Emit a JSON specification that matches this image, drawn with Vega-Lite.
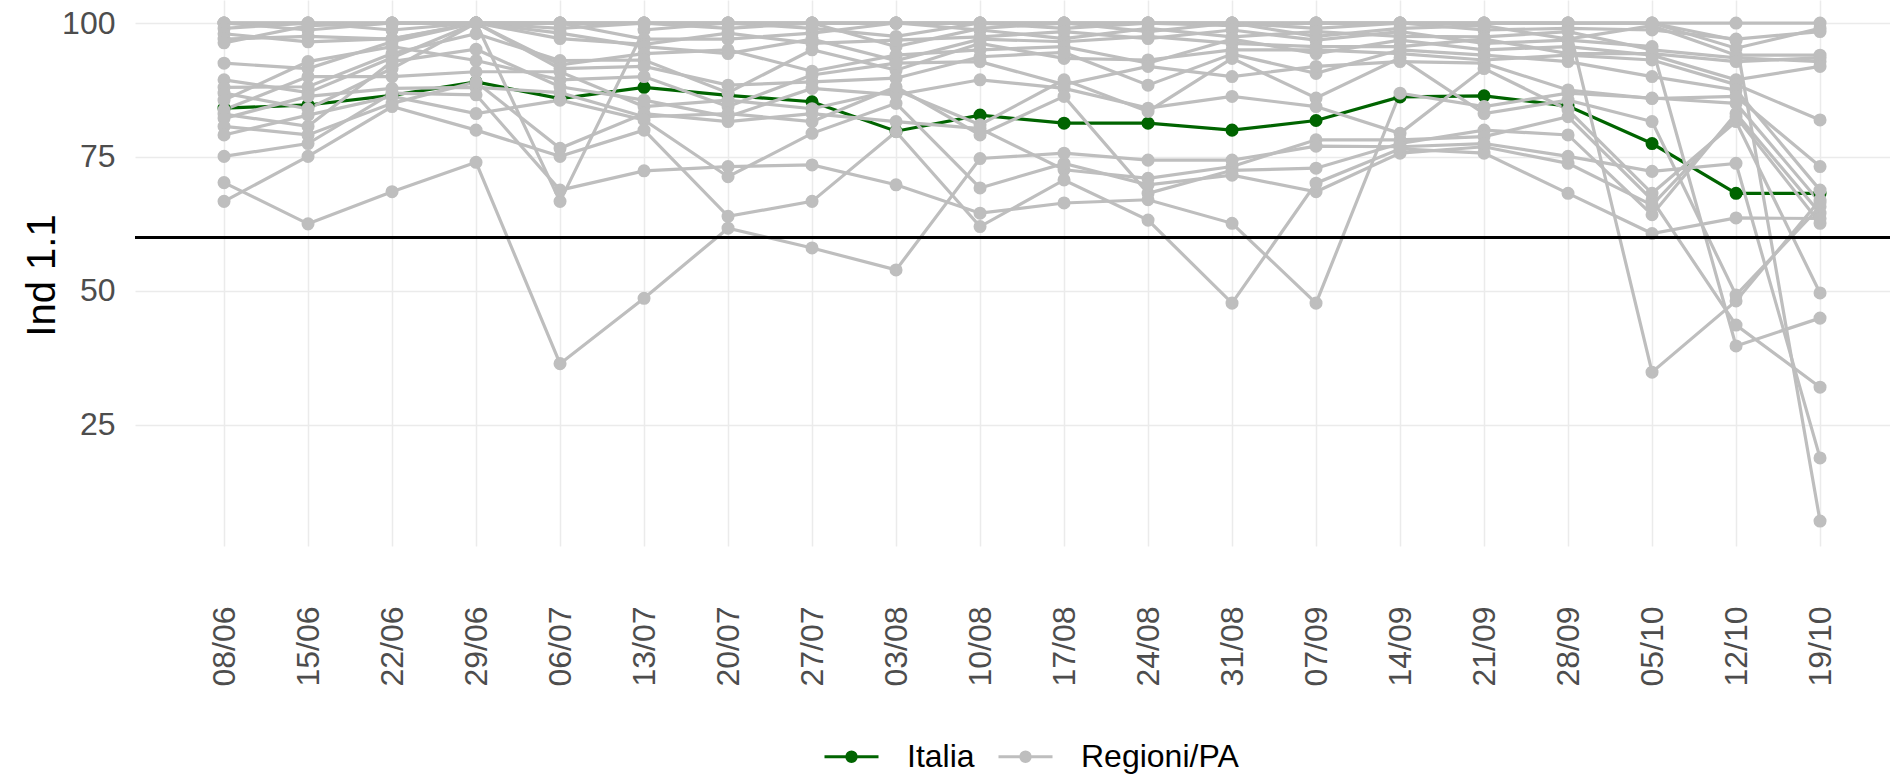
{
"$schema": "https://vega.github.io/schema/vega-lite/v6.json",
"width": 1755, "height": 546,
"autosize": {"type": "none"},
"padding": {"left": 135, "top": 0, "right": 0, "bottom": 230},
"background": "white",
"config": {"view": {"stroke": null}, "font": "Liberation Sans"},
"data": {"values": [
{"data":"08/06","regione":"Italia","tipo":"Italia","valore":84.1},{"data":"15/06","regione":"Italia","tipo":"Italia","valore":84.7},{"data":"22/06","regione":"Italia","tipo":"Italia","valore":86.5},{"data":"29/06","regione":"Italia","tipo":"Italia","valore":89},{"data":"06/07","regione":"Italia","tipo":"Italia","valore":85.9},{"data":"13/07","regione":"Italia","tipo":"Italia","valore":88},{"data":"20/07","regione":"Italia","tipo":"Italia","valore":86.5},{"data":"27/07","regione":"Italia","tipo":"Italia","valore":85.3},{"data":"03/08","regione":"Italia","tipo":"Italia","valore":79.8},{"data":"10/08","regione":"Italia","tipo":"Italia","valore":82.8},{"data":"17/08","regione":"Italia","tipo":"Italia","valore":81.3},{"data":"24/08","regione":"Italia","tipo":"Italia","valore":81.3},{"data":"31/08","regione":"Italia","tipo":"Italia","valore":80},{"data":"07/09","regione":"Italia","tipo":"Italia","valore":81.8},{"data":"14/09","regione":"Italia","tipo":"Italia","valore":86.2},{"data":"21/09","regione":"Italia","tipo":"Italia","valore":86.4},{"data":"28/09","regione":"Italia","tipo":"Italia","valore":84.5},{"data":"05/10","regione":"Italia","tipo":"Italia","valore":77.5},{"data":"12/10","regione":"Italia","tipo":"Italia","valore":68.2},{"data":"19/10","regione":"Italia","tipo":"Italia","valore":68.2},
{"data":"08/06","regione":"Abruzzo","tipo":"Regioni/PA","valore":100},{"data":"15/06","regione":"Abruzzo","tipo":"Regioni/PA","valore":100},{"data":"22/06","regione":"Abruzzo","tipo":"Regioni/PA","valore":100},{"data":"29/06","regione":"Abruzzo","tipo":"Regioni/PA","valore":100},{"data":"06/07","regione":"Abruzzo","tipo":"Regioni/PA","valore":100},{"data":"13/07","regione":"Abruzzo","tipo":"Regioni/PA","valore":100},{"data":"20/07","regione":"Abruzzo","tipo":"Regioni/PA","valore":100},{"data":"27/07","regione":"Abruzzo","tipo":"Regioni/PA","valore":100},{"data":"03/08","regione":"Abruzzo","tipo":"Regioni/PA","valore":100},{"data":"10/08","regione":"Abruzzo","tipo":"Regioni/PA","valore":100},{"data":"17/08","regione":"Abruzzo","tipo":"Regioni/PA","valore":100},{"data":"24/08","regione":"Abruzzo","tipo":"Regioni/PA","valore":100},{"data":"31/08","regione":"Abruzzo","tipo":"Regioni/PA","valore":100},{"data":"07/09","regione":"Abruzzo","tipo":"Regioni/PA","valore":100},{"data":"14/09","regione":"Abruzzo","tipo":"Regioni/PA","valore":100},{"data":"21/09","regione":"Abruzzo","tipo":"Regioni/PA","valore":100},{"data":"28/09","regione":"Abruzzo","tipo":"Regioni/PA","valore":100},{"data":"05/10","regione":"Abruzzo","tipo":"Regioni/PA","valore":100},{"data":"12/10","regione":"Abruzzo","tipo":"Regioni/PA","valore":100},{"data":"19/10","regione":"Abruzzo","tipo":"Regioni/PA","valore":100},
{"data":"08/06","regione":"Basilicata","tipo":"Regioni/PA","valore":100},{"data":"15/06","regione":"Basilicata","tipo":"Regioni/PA","valore":100},{"data":"22/06","regione":"Basilicata","tipo":"Regioni/PA","valore":100},{"data":"29/06","regione":"Basilicata","tipo":"Regioni/PA","valore":100},{"data":"06/07","regione":"Basilicata","tipo":"Regioni/PA","valore":100},{"data":"13/07","regione":"Basilicata","tipo":"Regioni/PA","valore":100},{"data":"20/07","regione":"Basilicata","tipo":"Regioni/PA","valore":100},{"data":"27/07","regione":"Basilicata","tipo":"Regioni/PA","valore":100},{"data":"03/08","regione":"Basilicata","tipo":"Regioni/PA","valore":100},{"data":"10/08","regione":"Basilicata","tipo":"Regioni/PA","valore":100},{"data":"17/08","regione":"Basilicata","tipo":"Regioni/PA","valore":100},{"data":"24/08","regione":"Basilicata","tipo":"Regioni/PA","valore":100},{"data":"31/08","regione":"Basilicata","tipo":"Regioni/PA","valore":100},{"data":"07/09","regione":"Basilicata","tipo":"Regioni/PA","valore":100},{"data":"14/09","regione":"Basilicata","tipo":"Regioni/PA","valore":100},{"data":"21/09","regione":"Basilicata","tipo":"Regioni/PA","valore":100},{"data":"28/09","regione":"Basilicata","tipo":"Regioni/PA","valore":100},{"data":"05/10","regione":"Basilicata","tipo":"Regioni/PA","valore":100},{"data":"12/10","regione":"Basilicata","tipo":"Regioni/PA","valore":96.8},{"data":"19/10","regione":"Basilicata","tipo":"Regioni/PA","valore":7},
{"data":"08/06","regione":"Calabria","tipo":"Regioni/PA","valore":100},{"data":"15/06","regione":"Calabria","tipo":"Regioni/PA","valore":100},{"data":"22/06","regione":"Calabria","tipo":"Regioni/PA","valore":100},{"data":"29/06","regione":"Calabria","tipo":"Regioni/PA","valore":100},{"data":"06/07","regione":"Calabria","tipo":"Regioni/PA","valore":100},{"data":"13/07","regione":"Calabria","tipo":"Regioni/PA","valore":100},{"data":"20/07","regione":"Calabria","tipo":"Regioni/PA","valore":100},{"data":"27/07","regione":"Calabria","tipo":"Regioni/PA","valore":100},{"data":"03/08","regione":"Calabria","tipo":"Regioni/PA","valore":100},{"data":"10/08","regione":"Calabria","tipo":"Regioni/PA","valore":100},{"data":"17/08","regione":"Calabria","tipo":"Regioni/PA","valore":100},{"data":"24/08","regione":"Calabria","tipo":"Regioni/PA","valore":100},{"data":"31/08","regione":"Calabria","tipo":"Regioni/PA","valore":100},{"data":"07/09","regione":"Calabria","tipo":"Regioni/PA","valore":100},{"data":"14/09","regione":"Calabria","tipo":"Regioni/PA","valore":100},{"data":"21/09","regione":"Calabria","tipo":"Regioni/PA","valore":100},{"data":"28/09","regione":"Calabria","tipo":"Regioni/PA","valore":100},{"data":"05/10","regione":"Calabria","tipo":"Regioni/PA","valore":34.8},{"data":"12/10","regione":"Calabria","tipo":"Regioni/PA","valore":48.1},{"data":"19/10","regione":"Calabria","tipo":"Regioni/PA","valore":67},
{"data":"08/06","regione":"Campania","tipo":"Regioni/PA","valore":100},{"data":"15/06","regione":"Campania","tipo":"Regioni/PA","valore":98.7},{"data":"22/06","regione":"Campania","tipo":"Regioni/PA","valore":100},{"data":"29/06","regione":"Campania","tipo":"Regioni/PA","valore":100},{"data":"06/07","regione":"Campania","tipo":"Regioni/PA","valore":100},{"data":"13/07","regione":"Campania","tipo":"Regioni/PA","valore":100},{"data":"20/07","regione":"Campania","tipo":"Regioni/PA","valore":100},{"data":"27/07","regione":"Campania","tipo":"Regioni/PA","valore":100},{"data":"03/08","regione":"Campania","tipo":"Regioni/PA","valore":100},{"data":"10/08","regione":"Campania","tipo":"Regioni/PA","valore":100},{"data":"17/08","regione":"Campania","tipo":"Regioni/PA","valore":100},{"data":"24/08","regione":"Campania","tipo":"Regioni/PA","valore":100},{"data":"31/08","regione":"Campania","tipo":"Regioni/PA","valore":100},{"data":"07/09","regione":"Campania","tipo":"Regioni/PA","valore":99},{"data":"14/09","regione":"Campania","tipo":"Regioni/PA","valore":100},{"data":"21/09","regione":"Campania","tipo":"Regioni/PA","valore":100},{"data":"28/09","regione":"Campania","tipo":"Regioni/PA","valore":100},{"data":"05/10","regione":"Campania","tipo":"Regioni/PA","valore":100},{"data":"12/10","regione":"Campania","tipo":"Regioni/PA","valore":95.3},{"data":"19/10","regione":"Campania","tipo":"Regioni/PA","valore":99},
{"data":"08/06","regione":"Emilia-Romagna","tipo":"Regioni/PA","valore":99},{"data":"15/06","regione":"Emilia-Romagna","tipo":"Regioni/PA","valore":100},{"data":"22/06","regione":"Emilia-Romagna","tipo":"Regioni/PA","valore":98.7},{"data":"29/06","regione":"Emilia-Romagna","tipo":"Regioni/PA","valore":100},{"data":"06/07","regione":"Emilia-Romagna","tipo":"Regioni/PA","valore":66.7},{"data":"13/07","regione":"Emilia-Romagna","tipo":"Regioni/PA","valore":98.7},{"data":"20/07","regione":"Emilia-Romagna","tipo":"Regioni/PA","valore":100},{"data":"27/07","regione":"Emilia-Romagna","tipo":"Regioni/PA","valore":99},{"data":"03/08","regione":"Emilia-Romagna","tipo":"Regioni/PA","valore":97.5},{"data":"10/08","regione":"Emilia-Romagna","tipo":"Regioni/PA","valore":100},{"data":"17/08","regione":"Emilia-Romagna","tipo":"Regioni/PA","valore":99},{"data":"24/08","regione":"Emilia-Romagna","tipo":"Regioni/PA","valore":100},{"data":"31/08","regione":"Emilia-Romagna","tipo":"Regioni/PA","valore":99.5},{"data":"07/09","regione":"Emilia-Romagna","tipo":"Regioni/PA","valore":100},{"data":"14/09","regione":"Emilia-Romagna","tipo":"Regioni/PA","valore":100},{"data":"21/09","regione":"Emilia-Romagna","tipo":"Regioni/PA","valore":98.7},{"data":"28/09","regione":"Emilia-Romagna","tipo":"Regioni/PA","valore":99},{"data":"05/10","regione":"Emilia-Romagna","tipo":"Regioni/PA","valore":98.7},{"data":"12/10","regione":"Emilia-Romagna","tipo":"Regioni/PA","valore":97},{"data":"19/10","regione":"Emilia-Romagna","tipo":"Regioni/PA","valore":98.4},
{"data":"08/06","regione":"Friuli Venezia Giulia","tipo":"Regioni/PA","valore":98},{"data":"15/06","regione":"Friuli Venezia Giulia","tipo":"Regioni/PA","valore":96.5},{"data":"22/06","regione":"Friuli Venezia Giulia","tipo":"Regioni/PA","valore":97.1},{"data":"29/06","regione":"Friuli Venezia Giulia","tipo":"Regioni/PA","valore":100},{"data":"06/07","regione":"Friuli Venezia Giulia","tipo":"Regioni/PA","valore":99},{"data":"13/07","regione":"Friuli Venezia Giulia","tipo":"Regioni/PA","valore":100},{"data":"20/07","regione":"Friuli Venezia Giulia","tipo":"Regioni/PA","valore":99},{"data":"27/07","regione":"Friuli Venezia Giulia","tipo":"Regioni/PA","valore":100},{"data":"03/08","regione":"Friuli Venezia Giulia","tipo":"Regioni/PA","valore":95.6},{"data":"10/08","regione":"Friuli Venezia Giulia","tipo":"Regioni/PA","valore":99},{"data":"17/08","regione":"Friuli Venezia Giulia","tipo":"Regioni/PA","valore":100},{"data":"24/08","regione":"Friuli Venezia Giulia","tipo":"Regioni/PA","valore":98.4},{"data":"31/08","regione":"Friuli Venezia Giulia","tipo":"Regioni/PA","valore":100},{"data":"07/09","regione":"Friuli Venezia Giulia","tipo":"Regioni/PA","valore":97.5},{"data":"14/09","regione":"Friuli Venezia Giulia","tipo":"Regioni/PA","valore":99},{"data":"21/09","regione":"Friuli Venezia Giulia","tipo":"Regioni/PA","valore":99.5},{"data":"28/09","regione":"Friuli Venezia Giulia","tipo":"Regioni/PA","valore":97},{"data":"05/10","regione":"Friuli Venezia Giulia","tipo":"Regioni/PA","valore":99.5},{"data":"12/10","regione":"Friuli Venezia Giulia","tipo":"Regioni/PA","valore":94},{"data":"19/10","regione":"Friuli Venezia Giulia","tipo":"Regioni/PA","valore":94},
{"data":"08/06","regione":"Lazio","tipo":"Regioni/PA","valore":97},{"data":"15/06","regione":"Lazio","tipo":"Regioni/PA","valore":97.5},{"data":"22/06","regione":"Lazio","tipo":"Regioni/PA","valore":97},{"data":"29/06","regione":"Lazio","tipo":"Regioni/PA","valore":100},{"data":"06/07","regione":"Lazio","tipo":"Regioni/PA","valore":100},{"data":"13/07","regione":"Lazio","tipo":"Regioni/PA","valore":97},{"data":"20/07","regione":"Lazio","tipo":"Regioni/PA","valore":97},{"data":"27/07","regione":"Lazio","tipo":"Regioni/PA","valore":98.1},{"data":"03/08","regione":"Lazio","tipo":"Regioni/PA","valore":100},{"data":"10/08","regione":"Lazio","tipo":"Regioni/PA","valore":98.7},{"data":"17/08","regione":"Lazio","tipo":"Regioni/PA","valore":97.1},{"data":"24/08","regione":"Lazio","tipo":"Regioni/PA","valore":99},{"data":"31/08","regione":"Lazio","tipo":"Regioni/PA","valore":97.4},{"data":"07/09","regione":"Lazio","tipo":"Regioni/PA","valore":98.4},{"data":"14/09","regione":"Lazio","tipo":"Regioni/PA","valore":97.5},{"data":"21/09","regione":"Lazio","tipo":"Regioni/PA","valore":97.4},{"data":"28/09","regione":"Lazio","tipo":"Regioni/PA","valore":98.4},{"data":"05/10","regione":"Lazio","tipo":"Regioni/PA","valore":95},{"data":"12/10","regione":"Lazio","tipo":"Regioni/PA","valore":93.5},{"data":"19/10","regione":"Lazio","tipo":"Regioni/PA","valore":92.8},
{"data":"08/06","regione":"Liguria","tipo":"Regioni/PA","valore":96.3},{"data":"15/06","regione":"Liguria","tipo":"Regioni/PA","valore":99.5},{"data":"22/06","regione":"Liguria","tipo":"Regioni/PA","valore":100},{"data":"29/06","regione":"Liguria","tipo":"Regioni/PA","valore":100},{"data":"06/07","regione":"Liguria","tipo":"Regioni/PA","valore":97.1},{"data":"13/07","regione":"Liguria","tipo":"Regioni/PA","valore":96},{"data":"20/07","regione":"Liguria","tipo":"Regioni/PA","valore":98.1},{"data":"27/07","regione":"Liguria","tipo":"Regioni/PA","valore":96.2},{"data":"03/08","regione":"Liguria","tipo":"Regioni/PA","valore":96.8},{"data":"10/08","regione":"Liguria","tipo":"Regioni/PA","valore":97.4},{"data":"17/08","regione":"Liguria","tipo":"Regioni/PA","valore":98.4},{"data":"24/08","regione":"Liguria","tipo":"Regioni/PA","valore":97.1},{"data":"31/08","regione":"Liguria","tipo":"Regioni/PA","valore":98.7},{"data":"07/09","regione":"Liguria","tipo":"Regioni/PA","valore":96.8},{"data":"14/09","regione":"Liguria","tipo":"Regioni/PA","valore":98.4},{"data":"21/09","regione":"Liguria","tipo":"Regioni/PA","valore":96.2},{"data":"28/09","regione":"Liguria","tipo":"Regioni/PA","valore":96.8},{"data":"05/10","regione":"Liguria","tipo":"Regioni/PA","valore":95.6},{"data":"12/10","regione":"Liguria","tipo":"Regioni/PA","valore":39.7},{"data":"19/10","regione":"Liguria","tipo":"Regioni/PA","valore":44.9},
{"data":"08/06","regione":"Lombardia","tipo":"Regioni/PA","valore":92.5},{"data":"15/06","regione":"Lombardia","tipo":"Regioni/PA","valore":91.5},{"data":"22/06","regione":"Lombardia","tipo":"Regioni/PA","valore":96.5},{"data":"29/06","regione":"Lombardia","tipo":"Regioni/PA","valore":100},{"data":"06/07","regione":"Lombardia","tipo":"Regioni/PA","valore":98.1},{"data":"13/07","regione":"Lombardia","tipo":"Regioni/PA","valore":95.6},{"data":"20/07","regione":"Lombardia","tipo":"Regioni/PA","valore":94.3},{"data":"27/07","regione":"Lombardia","tipo":"Regioni/PA","valore":97},{"data":"03/08","regione":"Lombardia","tipo":"Regioni/PA","valore":93},{"data":"10/08","regione":"Lombardia","tipo":"Regioni/PA","valore":97},{"data":"17/08","regione":"Lombardia","tipo":"Regioni/PA","valore":96.5},{"data":"24/08","regione":"Lombardia","tipo":"Regioni/PA","valore":97.5},{"data":"31/08","regione":"Lombardia","tipo":"Regioni/PA","valore":96.2},{"data":"07/09","regione":"Lombardia","tipo":"Regioni/PA","valore":95.6},{"data":"14/09","regione":"Lombardia","tipo":"Regioni/PA","valore":95.6},{"data":"21/09","regione":"Lombardia","tipo":"Regioni/PA","valore":97},{"data":"28/09","regione":"Lombardia","tipo":"Regioni/PA","valore":94.3},{"data":"05/10","regione":"Lombardia","tipo":"Regioni/PA","valore":94.3},{"data":"12/10","regione":"Lombardia","tipo":"Regioni/PA","valore":92.8},{"data":"19/10","regione":"Lombardia","tipo":"Regioni/PA","valore":93.5},
{"data":"08/06","regione":"Marche","tipo":"Regioni/PA","valore":89.4},{"data":"15/06","regione":"Marche","tipo":"Regioni/PA","valore":87},{"data":"22/06","regione":"Marche","tipo":"Regioni/PA","valore":93.5},{"data":"29/06","regione":"Marche","tipo":"Regioni/PA","valore":100},{"data":"06/07","regione":"Marche","tipo":"Regioni/PA","valore":92.2},{"data":"13/07","regione":"Marche","tipo":"Regioni/PA","valore":94.3},{"data":"20/07","regione":"Marche","tipo":"Regioni/PA","valore":95},{"data":"27/07","regione":"Marche","tipo":"Regioni/PA","valore":91},{"data":"03/08","regione":"Marche","tipo":"Regioni/PA","valore":94},{"data":"10/08","regione":"Marche","tipo":"Regioni/PA","valore":95},{"data":"17/08","regione":"Marche","tipo":"Regioni/PA","valore":95.6},{"data":"24/08","regione":"Marche","tipo":"Regioni/PA","valore":92.5},{"data":"31/08","regione":"Marche","tipo":"Regioni/PA","valore":97},{"data":"07/09","regione":"Marche","tipo":"Regioni/PA","valore":94.3},{"data":"14/09","regione":"Marche","tipo":"Regioni/PA","valore":96.8},{"data":"21/09","regione":"Marche","tipo":"Regioni/PA","valore":95},{"data":"28/09","regione":"Marche","tipo":"Regioni/PA","valore":95.6},{"data":"05/10","regione":"Marche","tipo":"Regioni/PA","valore":94},{"data":"12/10","regione":"Marche","tipo":"Regioni/PA","valore":89.4},{"data":"19/10","regione":"Marche","tipo":"Regioni/PA","valore":91.9},
{"data":"08/06","regione":"Molise","tipo":"Regioni/PA","valore":88},{"data":"15/06","regione":"Molise","tipo":"Regioni/PA","valore":88.1},{"data":"22/06","regione":"Molise","tipo":"Regioni/PA","valore":94.3},{"data":"29/06","regione":"Molise","tipo":"Regioni/PA","valore":98},{"data":"06/07","regione":"Molise","tipo":"Regioni/PA","valore":93},{"data":"13/07","regione":"Molise","tipo":"Regioni/PA","valore":93.1},{"data":"20/07","regione":"Molise","tipo":"Regioni/PA","valore":87},{"data":"27/07","regione":"Molise","tipo":"Regioni/PA","valore":95},{"data":"03/08","regione":"Molise","tipo":"Regioni/PA","valore":91.2},{"data":"10/08","regione":"Molise","tipo":"Regioni/PA","valore":96.2},{"data":"17/08","regione":"Molise","tipo":"Regioni/PA","valore":93.4},{"data":"24/08","regione":"Molise","tipo":"Regioni/PA","valore":93.1},{"data":"31/08","regione":"Molise","tipo":"Regioni/PA","valore":95},{"data":"07/09","regione":"Molise","tipo":"Regioni/PA","valore":95},{"data":"14/09","regione":"Molise","tipo":"Regioni/PA","valore":94.3},{"data":"21/09","regione":"Molise","tipo":"Regioni/PA","valore":93.1},{"data":"28/09","regione":"Molise","tipo":"Regioni/PA","valore":94},{"data":"05/10","regione":"Molise","tipo":"Regioni/PA","valore":93.1},{"data":"12/10","regione":"Molise","tipo":"Regioni/PA","valore":88.5},{"data":"19/10","regione":"Molise","tipo":"Regioni/PA","valore":81.9},
{"data":"08/06","regione":"PA Bolzano","tipo":"Regioni/PA","valore":86.9},{"data":"15/06","regione":"PA Bolzano","tipo":"Regioni/PA","valore":84},{"data":"22/06","regione":"PA Bolzano","tipo":"Regioni/PA","valore":91.5},{"data":"29/06","regione":"PA Bolzano","tipo":"Regioni/PA","valore":100},{"data":"06/07","regione":"PA Bolzano","tipo":"Regioni/PA","valore":91.5},{"data":"13/07","regione":"PA Bolzano","tipo":"Regioni/PA","valore":91.9},{"data":"20/07","regione":"PA Bolzano","tipo":"Regioni/PA","valore":88.4},{"data":"27/07","regione":"PA Bolzano","tipo":"Regioni/PA","valore":89},{"data":"03/08","regione":"PA Bolzano","tipo":"Regioni/PA","valore":89.7},{"data":"10/08","regione":"PA Bolzano","tipo":"Regioni/PA","valore":93.7},{"data":"17/08","regione":"PA Bolzano","tipo":"Regioni/PA","valore":94.5},{"data":"24/08","regione":"PA Bolzano","tipo":"Regioni/PA","valore":88.4},{"data":"31/08","regione":"PA Bolzano","tipo":"Regioni/PA","valore":94.2},{"data":"07/09","regione":"PA Bolzano","tipo":"Regioni/PA","valore":90.6},{"data":"14/09","regione":"PA Bolzano","tipo":"Regioni/PA","valore":95},{"data":"21/09","regione":"PA Bolzano","tipo":"Regioni/PA","valore":94},{"data":"28/09","regione":"PA Bolzano","tipo":"Regioni/PA","valore":92.8},{"data":"05/10","regione":"PA Bolzano","tipo":"Regioni/PA","valore":90},{"data":"12/10","regione":"PA Bolzano","tipo":"Regioni/PA","valore":87.5},{"data":"19/10","regione":"PA Bolzano","tipo":"Regioni/PA","valore":68.8},
{"data":"08/06","regione":"PA Trento","tipo":"Regioni/PA","valore":85.6},{"data":"15/06","regione":"PA Trento","tipo":"Regioni/PA","valore":92.8},{"data":"22/06","regione":"PA Trento","tipo":"Regioni/PA","valore":95.6},{"data":"29/06","regione":"PA Trento","tipo":"Regioni/PA","valore":93},{"data":"06/07","regione":"PA Trento","tipo":"Regioni/PA","valore":89.4},{"data":"13/07","regione":"PA Trento","tipo":"Regioni/PA","valore":90},{"data":"20/07","regione":"PA Trento","tipo":"Regioni/PA","valore":84.4},{"data":"27/07","regione":"PA Trento","tipo":"Regioni/PA","valore":90.3},{"data":"03/08","regione":"PA Trento","tipo":"Regioni/PA","valore":92.5},{"data":"10/08","regione":"PA Trento","tipo":"Regioni/PA","valore":92.8},{"data":"17/08","regione":"PA Trento","tipo":"Regioni/PA","valore":88.5},{"data":"24/08","regione":"PA Trento","tipo":"Regioni/PA","valore":91.9},{"data":"31/08","regione":"PA Trento","tipo":"Regioni/PA","valore":90},{"data":"07/09","regione":"PA Trento","tipo":"Regioni/PA","valore":91.9},{"data":"14/09","regione":"PA Trento","tipo":"Regioni/PA","valore":92.8},{"data":"21/09","regione":"PA Trento","tipo":"Regioni/PA","valore":92.5},{"data":"28/09","regione":"PA Trento","tipo":"Regioni/PA","valore":87.5},{"data":"05/10","regione":"PA Trento","tipo":"Regioni/PA","valore":85.9},{"data":"12/10","regione":"PA Trento","tipo":"Regioni/PA","valore":86.3},{"data":"19/10","regione":"PA Trento","tipo":"Regioni/PA","valore":73.2},
{"data":"08/06","regione":"Piemonte","tipo":"Regioni/PA","valore":83.8},{"data":"15/06","regione":"Piemonte","tipo":"Regioni/PA","valore":90},{"data":"22/06","regione":"Piemonte","tipo":"Regioni/PA","valore":90},{"data":"29/06","regione":"Piemonte","tipo":"Regioni/PA","valore":90.9},{"data":"06/07","regione":"Piemonte","tipo":"Regioni/PA","valore":90.9},{"data":"13/07","regione":"Piemonte","tipo":"Regioni/PA","valore":84.4},{"data":"20/07","regione":"Piemonte","tipo":"Regioni/PA","valore":85.6},{"data":"27/07","regione":"Piemonte","tipo":"Regioni/PA","valore":84},{"data":"03/08","regione":"Piemonte","tipo":"Regioni/PA","valore":87.5},{"data":"10/08","regione":"Piemonte","tipo":"Regioni/PA","valore":81},{"data":"17/08","regione":"Piemonte","tipo":"Regioni/PA","valore":89.4},{"data":"24/08","regione":"Piemonte","tipo":"Regioni/PA","valore":83.5},{"data":"31/08","regione":"Piemonte","tipo":"Regioni/PA","valore":93.4},{"data":"07/09","regione":"Piemonte","tipo":"Regioni/PA","valore":86},{"data":"14/09","regione":"Piemonte","tipo":"Regioni/PA","valore":93.5},{"data":"21/09","regione":"Piemonte","tipo":"Regioni/PA","valore":83.1},{"data":"28/09","regione":"Piemonte","tipo":"Regioni/PA","valore":85.6},{"data":"05/10","regione":"Piemonte","tipo":"Regioni/PA","valore":81.6},{"data":"12/10","regione":"Piemonte","tipo":"Regioni/PA","valore":49.2},{"data":"19/10","regione":"Piemonte","tipo":"Regioni/PA","valore":65.7},
{"data":"08/06","regione":"Puglia","tipo":"Regioni/PA","valore":83},{"data":"15/06","regione":"Puglia","tipo":"Regioni/PA","valore":80.7},{"data":"22/06","regione":"Puglia","tipo":"Regioni/PA","valore":92.8},{"data":"29/06","regione":"Puglia","tipo":"Regioni/PA","valore":95.1},{"data":"06/07","regione":"Puglia","tipo":"Regioni/PA","valore":88.1},{"data":"13/07","regione":"Puglia","tipo":"Regioni/PA","valore":85.6},{"data":"20/07","regione":"Puglia","tipo":"Regioni/PA","valore":82.5},{"data":"27/07","regione":"Puglia","tipo":"Regioni/PA","valore":87.8},{"data":"03/08","regione":"Puglia","tipo":"Regioni/PA","valore":86.6},{"data":"10/08","regione":"Puglia","tipo":"Regioni/PA","valore":89.4},{"data":"17/08","regione":"Puglia","tipo":"Regioni/PA","valore":87.8},{"data":"24/08","regione":"Puglia","tipo":"Regioni/PA","valore":84.1},{"data":"31/08","regione":"Puglia","tipo":"Regioni/PA","valore":86.3},{"data":"07/09","regione":"Puglia","tipo":"Regioni/PA","valore":84.4},{"data":"14/09","regione":"Puglia","tipo":"Regioni/PA","valore":79.4},{"data":"21/09","regione":"Puglia","tipo":"Regioni/PA","valore":91.5},{"data":"28/09","regione":"Puglia","tipo":"Regioni/PA","valore":83.8},{"data":"05/10","regione":"Puglia","tipo":"Regioni/PA","valore":68.2},{"data":"12/10","regione":"Puglia","tipo":"Regioni/PA","valore":81.6},{"data":"19/10","regione":"Puglia","tipo":"Regioni/PA","valore":49.6},
{"data":"08/06","regione":"Sardegna","tipo":"Regioni/PA","valore":82.2},{"data":"15/06","regione":"Sardegna","tipo":"Regioni/PA","valore":86.3},{"data":"22/06","regione":"Sardegna","tipo":"Regioni/PA","valore":87.8},{"data":"29/06","regione":"Sardegna","tipo":"Regioni/PA","valore":88},{"data":"06/07","regione":"Sardegna","tipo":"Regioni/PA","valore":87},{"data":"13/07","regione":"Sardegna","tipo":"Regioni/PA","valore":82.5},{"data":"20/07","regione":"Sardegna","tipo":"Regioni/PA","valore":83.1},{"data":"27/07","regione":"Sardegna","tipo":"Regioni/PA","valore":81.6},{"data":"03/08","regione":"Sardegna","tipo":"Regioni/PA","valore":88.1},{"data":"10/08","regione":"Sardegna","tipo":"Regioni/PA","valore":79.1},{"data":"17/08","regione":"Sardegna","tipo":"Regioni/PA","valore":86.3},{"data":"24/08","regione":"Sardegna","tipo":"Regioni/PA","valore":68.2},{"data":"31/08","regione":"Sardegna","tipo":"Regioni/PA","valore":72.5},{"data":"07/09","regione":"Sardegna","tipo":"Regioni/PA","valore":72.9},{"data":"14/09","regione":"Sardegna","tipo":"Regioni/PA","valore":77.5},{"data":"21/09","regione":"Sardegna","tipo":"Regioni/PA","valore":80},{"data":"28/09","regione":"Sardegna","tipo":"Regioni/PA","valore":79.1},{"data":"05/10","regione":"Sardegna","tipo":"Regioni/PA","valore":64.2},{"data":"12/10","regione":"Sardegna","tipo":"Regioni/PA","valore":83.1},{"data":"19/10","regione":"Sardegna","tipo":"Regioni/PA","valore":64.5},
{"data":"08/06","regione":"Sicilia","tipo":"Regioni/PA","valore":80.7},{"data":"15/06","regione":"Sicilia","tipo":"Regioni/PA","valore":79.1},{"data":"22/06","regione":"Sicilia","tipo":"Regioni/PA","valore":85},{"data":"29/06","regione":"Sicilia","tipo":"Regioni/PA","valore":89},{"data":"06/07","regione":"Sicilia","tipo":"Regioni/PA","valore":76.6},{"data":"13/07","regione":"Sicilia","tipo":"Regioni/PA","valore":83.1},{"data":"20/07","regione":"Sicilia","tipo":"Regioni/PA","valore":81.6},{"data":"27/07","regione":"Sicilia","tipo":"Regioni/PA","valore":83.1},{"data":"03/08","regione":"Sicilia","tipo":"Regioni/PA","valore":81.6},{"data":"10/08","regione":"Sicilia","tipo":"Regioni/PA","valore":80.3},{"data":"17/08","regione":"Sicilia","tipo":"Regioni/PA","valore":72.6},{"data":"24/08","regione":"Sicilia","tipo":"Regioni/PA","valore":71},{"data":"31/08","regione":"Sicilia","tipo":"Regioni/PA","valore":73.2},{"data":"07/09","regione":"Sicilia","tipo":"Regioni/PA","valore":78.2},{"data":"14/09","regione":"Sicilia","tipo":"Regioni/PA","valore":78.2},{"data":"21/09","regione":"Sicilia","tipo":"Regioni/PA","valore":78.8},{"data":"28/09","regione":"Sicilia","tipo":"Regioni/PA","valore":82.5},{"data":"05/10","regione":"Sicilia","tipo":"Regioni/PA","valore":67},{"data":"12/10","regione":"Sicilia","tipo":"Regioni/PA","valore":43.6},{"data":"19/10","regione":"Sicilia","tipo":"Regioni/PA","valore":32},
{"data":"08/06","regione":"Toscana","tipo":"Regioni/PA","valore":79.1},{"data":"15/06","regione":"Toscana","tipo":"Regioni/PA","valore":82.8},{"data":"22/06","regione":"Toscana","tipo":"Regioni/PA","valore":86.3},{"data":"29/06","regione":"Toscana","tipo":"Regioni/PA","valore":83.1},{"data":"06/07","regione":"Toscana","tipo":"Regioni/PA","valore":85.6},{"data":"13/07","regione":"Toscana","tipo":"Regioni/PA","valore":81.9},{"data":"20/07","regione":"Toscana","tipo":"Regioni/PA","valore":71.3},{"data":"27/07","regione":"Toscana","tipo":"Regioni/PA","valore":79.4},{"data":"03/08","regione":"Toscana","tipo":"Regioni/PA","valore":85},{"data":"10/08","regione":"Toscana","tipo":"Regioni/PA","valore":69.2},{"data":"17/08","regione":"Toscana","tipo":"Regioni/PA","valore":73.8},{"data":"24/08","regione":"Toscana","tipo":"Regioni/PA","valore":69.8},{"data":"31/08","regione":"Toscana","tipo":"Regioni/PA","valore":71.6},{"data":"07/09","regione":"Toscana","tipo":"Regioni/PA","valore":68.5},{"data":"14/09","regione":"Toscana","tipo":"Regioni/PA","valore":75.7},{"data":"21/09","regione":"Toscana","tipo":"Regioni/PA","valore":76.9},{"data":"28/09","regione":"Toscana","tipo":"Regioni/PA","valore":73.8},{"data":"05/10","regione":"Toscana","tipo":"Regioni/PA","valore":66},{"data":"12/10","regione":"Toscana","tipo":"Regioni/PA","valore":82.5},{"data":"19/10","regione":"Toscana","tipo":"Regioni/PA","valore":62.6},
{"data":"08/06","regione":"Umbria","tipo":"Regioni/PA","valore":75.1},{"data":"15/06","regione":"Umbria","tipo":"Regioni/PA","valore":77.5},{"data":"22/06","regione":"Umbria","tipo":"Regioni/PA","valore":86.9},{"data":"29/06","regione":"Umbria","tipo":"Regioni/PA","valore":86.6},{"data":"06/07","regione":"Umbria","tipo":"Regioni/PA","valore":68.8},{"data":"13/07","regione":"Umbria","tipo":"Regioni/PA","valore":72.4},{"data":"20/07","regione":"Umbria","tipo":"Regioni/PA","valore":73.2},{"data":"27/07","regione":"Umbria","tipo":"Regioni/PA","valore":73.5},{"data":"03/08","regione":"Umbria","tipo":"Regioni/PA","valore":69.8},{"data":"10/08","regione":"Umbria","tipo":"Regioni/PA","valore":64.5},{"data":"17/08","regione":"Umbria","tipo":"Regioni/PA","valore":66.4},{"data":"24/08","regione":"Umbria","tipo":"Regioni/PA","valore":67},{"data":"31/08","regione":"Umbria","tipo":"Regioni/PA","valore":62.6},{"data":"07/09","regione":"Umbria","tipo":"Regioni/PA","valore":47.7},{"data":"14/09","regione":"Umbria","tipo":"Regioni/PA","valore":86.9},{"data":"21/09","regione":"Umbria","tipo":"Regioni/PA","valore":84.4},{"data":"28/09","regione":"Umbria","tipo":"Regioni/PA","valore":86.9},{"data":"05/10","regione":"Umbria","tipo":"Regioni/PA","valore":86},{"data":"12/10","regione":"Umbria","tipo":"Regioni/PA","valore":85},{"data":"19/10","regione":"Umbria","tipo":"Regioni/PA","valore":66.5},
{"data":"08/06","regione":"Valle d'Aosta","tipo":"Regioni/PA","valore":66.7},{"data":"15/06","regione":"Valle d'Aosta","tipo":"Regioni/PA","valore":75.1},{"data":"22/06","regione":"Valle d'Aosta","tipo":"Regioni/PA","valore":84.4},{"data":"29/06","regione":"Valle d'Aosta","tipo":"Regioni/PA","valore":80},{"data":"06/07","regione":"Valle d'Aosta","tipo":"Regioni/PA","valore":75.1},{"data":"13/07","regione":"Valle d'Aosta","tipo":"Regioni/PA","valore":80},{"data":"20/07","regione":"Valle d'Aosta","tipo":"Regioni/PA","valore":63.9},{"data":"27/07","regione":"Valle d'Aosta","tipo":"Regioni/PA","valore":66.7},{"data":"03/08","regione":"Valle d'Aosta","tipo":"Regioni/PA","valore":79.7},{"data":"10/08","regione":"Valle d'Aosta","tipo":"Regioni/PA","valore":62},{"data":"17/08","regione":"Valle d'Aosta","tipo":"Regioni/PA","valore":70.7},{"data":"24/08","regione":"Valle d'Aosta","tipo":"Regioni/PA","valore":63.2},{"data":"31/08","regione":"Valle d'Aosta","tipo":"Regioni/PA","valore":47.7},{"data":"07/09","regione":"Valle d'Aosta","tipo":"Regioni/PA","valore":70.1},{"data":"14/09","regione":"Valle d'Aosta","tipo":"Regioni/PA","valore":76.5},{"data":"21/09","regione":"Valle d'Aosta","tipo":"Regioni/PA","valore":75.7},{"data":"28/09","regione":"Valle d'Aosta","tipo":"Regioni/PA","valore":68.2},{"data":"05/10","regione":"Valle d'Aosta","tipo":"Regioni/PA","valore":60.7},{"data":"12/10","regione":"Valle d'Aosta","tipo":"Regioni/PA","valore":63.6},{"data":"19/10","regione":"Valle d'Aosta","tipo":"Regioni/PA","valore":63.5},
{"data":"08/06","regione":"Veneto","tipo":"Regioni/PA","valore":70.2},{"data":"15/06","regione":"Veneto","tipo":"Regioni/PA","valore":62.5},{"data":"22/06","regione":"Veneto","tipo":"Regioni/PA","valore":68.5},{"data":"29/06","regione":"Veneto","tipo":"Regioni/PA","valore":74},{"data":"06/07","regione":"Veneto","tipo":"Regioni/PA","valore":36.4},{"data":"13/07","regione":"Veneto","tipo":"Regioni/PA","valore":48.6},{"data":"20/07","regione":"Veneto","tipo":"Regioni/PA","valore":61.7},{"data":"27/07","regione":"Veneto","tipo":"Regioni/PA","valore":58},{"data":"03/08","regione":"Veneto","tipo":"Regioni/PA","valore":53.9},{"data":"10/08","regione":"Veneto","tipo":"Regioni/PA","valore":74.7},{"data":"17/08","regione":"Veneto","tipo":"Regioni/PA","valore":75.7},{"data":"24/08","regione":"Veneto","tipo":"Regioni/PA","valore":74.4},{"data":"31/08","regione":"Veneto","tipo":"Regioni/PA","valore":74.4},{"data":"07/09","regione":"Veneto","tipo":"Regioni/PA","valore":77},{"data":"14/09","regione":"Veneto","tipo":"Regioni/PA","valore":76.9},{"data":"21/09","regione":"Veneto","tipo":"Regioni/PA","valore":77.5},{"data":"28/09","regione":"Veneto","tipo":"Regioni/PA","valore":75.1},{"data":"05/10","regione":"Veneto","tipo":"Regioni/PA","valore":72.3},{"data":"12/10","regione":"Veneto","tipo":"Regioni/PA","valore":73.8},{"data":"19/10","regione":"Veneto","tipo":"Regioni/PA","valore":18.8}
]},
"encoding": {
  "x": {"field": "data", "type": "ordinal",
    "sort": ["08/06","15/06","22/06","29/06","06/07","13/07","20/07","27/07","03/08","10/08","17/08","24/08","31/08","07/09","14/09","21/09","28/09","05/10","12/10","19/10"],
    "scale": {"type": "point", "padding": 0.9464, "align": 0.56, "round": false},
    "axis": {"title": null, "labelAngle": 270, "labelFontSize": 32, "labelColor": "#4D4D4D", "labelFont": "Liberation Sans", "labelPadding": 60, "ticks": false, "domain": false, "grid": true, "gridColor": "#EBEBEB", "gridWidth": 1.5}},
  "y": {"field": "valore", "type": "quantitative",
    "scale": {"domain": [2.35, 104.3], "nice": false, "zero": false},
    "axis": {"values": [25, 50, 75, 100], "title": "Ind 1.1", "titleFont": "Liberation Sans", "titleFontSize": 40, "titleFontWeight": "normal", "titleColor": "black", "titleX": -93, "titleY": 275, "titleAngle": 270, "titleAlign": "center", "titleBaseline": "middle", "labelFontSize": 32, "labelColor": "#4D4D4D", "labelFont": "Liberation Sans", "labelPadding": 20, "ticks": false, "domain": false, "grid": true, "gridColor": "#EBEBEB", "gridWidth": 1.5}},
  "color": {"field": "tipo", "type": "nominal",
    "scale": {"domain": ["Italia", "Regioni/PA"], "range": ["#006400", "#BEBEBE"]},
    "legend": {"title": null, "orient": "none", "direction": "horizontal", "legendX": 688, "legendY": 728,
      "symbolType": "M-1,0H1M0.175,0A0.175,0.175,0,1,1,-0.175,0A0.175,0.175,0,1,1,0.175,0Z",
      "symbolSize": 2916, "symbolStrokeWidth": 3, "labelFontSize": 32, "labelFont": "Liberation Sans", "labelColor": "black", "labelOffset": 27, "columnPadding": 17, "padding": 0,
      "encode": {"symbols": {"update": {"fill": {"scale": "color", "field": "value"}, "stroke": {"scale": "color", "field": "value"}, "strokeWidth": {"value": 3}, "opacity": {"value": 1}}}}}}
},
"layer": [
  {"transform": [{"filter": "datum.tipo === 'Italia'"}], "mark": {"type": "line", "strokeWidth": 3.2}},
  {"transform": [{"filter": "datum.tipo !== 'Italia'"}], "mark": {"type": "line", "strokeWidth": 3.2}, "encoding": {"detail": {"field": "regione", "type": "nominal"}}},
  {"transform": [{"filter": "datum.tipo === 'Italia'"}], "mark": {"type": "point", "filled": true, "size": 170, "opacity": 1}},
  {"transform": [{"filter": "datum.tipo !== 'Italia'"}], "mark": {"type": "point", "filled": true, "size": 170, "opacity": 1}},
  {"mark": {"type": "rule", "color": "black", "strokeWidth": 2.6}, "encoding": {"y": {"datum": 60}, "x": null, "color": null}}
]
}
